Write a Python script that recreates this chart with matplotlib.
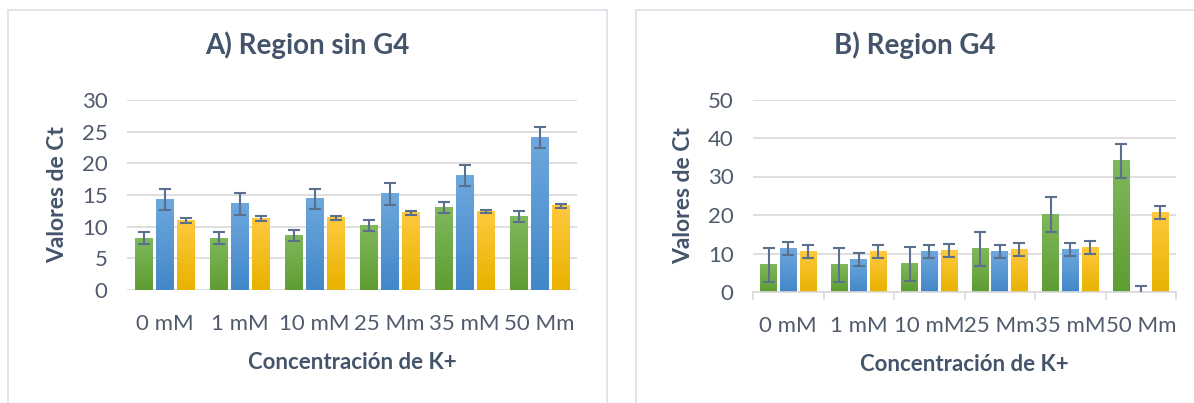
import matplotlib
matplotlib.use("Agg")
import matplotlib.pyplot as plt
import numpy as np
from matplotlib.colors import LinearSegmentedColormap
from matplotlib.patches import Rectangle

plt.rcParams['font.family'] = ['Lato', 'DejaVu Sans']

categories = ["0 mM", "1 mM", "10 mM", "25 Mm", "35 mM", "50 Mm"]

# A) Region sin G4
a_green = [8.2, 8.2, 8.6, 10.2, 13.0, 11.6]
a_green_err = [0.9, 0.9, 0.85, 0.85, 0.85, 0.85]
a_blue = [14.3, 13.6, 14.4, 15.2, 18.1, 24.1]
a_blue_err = [1.65, 1.7, 1.6, 1.7, 1.7, 1.7]
a_yellow = [10.95, 11.3, 11.4, 12.2, 12.4, 13.3]
a_yellow_err = [0.4, 0.35, 0.35, 0.35, 0.3, 0.3]

# B) Region G4
b_green = [7.1, 7.1, 7.35, 11.25, 20.1, 34.1]
b_green_err = [4.4, 4.4, 4.4, 4.4, 4.45, 4.45]
b_blue = [11.25, 8.4, 10.5, 10.5, 11.0, 0.0]
b_blue_err = [1.7, 1.65, 1.7, 1.7, 1.7, 1.65]
b_yellow = [10.5, 10.5, 10.7, 11.0, 11.5, 20.6]
b_yellow_err = [1.7, 1.7, 1.7, 1.7, 1.7, 1.7]

TEXT = '#44546A'
TICK = '#4F5B6C'
GRID = '#D9D9D9'
ERR = '#5B6F8E'
# (top, bottom) gradient colours
GREEN = ('#80B85C', '#5E9D32')
BLUE = ('#6EA8DE', '#4287C8')
YELLOW = ('#FFC93F', '#E8B200')


def gradient_bars(ax, bars, top, bottom):
    cmap = LinearSegmentedColormap.from_list('g', [bottom, top])
    grad = np.linspace(0, 1, 128).reshape(-1, 1)
    for b in bars:
        h = b.get_height()
        if h <= 0:
            continue
        x, y, w = b.get_x(), b.get_y(), b.get_width()
        ax.imshow(grad, extent=(x, x + w, y, y + h), origin='lower',
                  cmap=cmap, aspect='auto', zorder=2, interpolation='bilinear')


def draw(ax, title_x, title, series, ymax, ystep, ticks_below):
    x = np.arange(len(categories))
    w = 0.24
    step = 0.28
    for k, (vals, errs, cols) in enumerate(series):
        pos = x + (k - 1) * step
        bars = ax.bar(pos, vals, w, color='none', edgecolor='none', zorder=2)
        gradient_bars(ax, bars, *cols)
        ax.errorbar(pos, vals, yerr=errs, fmt='none', ecolor=ERR,
                    elinewidth=1.5, capsize=4.5, capthick=1.5, zorder=3)
    ax.set_xlim(-0.5, len(categories) - 0.5)
    ax.set_ylim(0, ymax)
    ax.set_yticks(np.arange(0, ymax + 1, ystep))
    ax.yaxis.grid(True, color=GRID, lw=1.2)
    ax.set_axisbelow(True)
    for s in ['top', 'right', 'left', 'bottom']:
        ax.spines[s].set_visible(False)
    ax.tick_params(axis='y', length=0, pad=14, labelsize=16, labelcolor=TICK)
    ax.set_xticks(x)
    ax.set_xticklabels(categories)
    ax.tick_params(axis='x', length=0, pad=17, labelsize=16, labelcolor=TICK)
    if ticks_below:
        ax.spines['bottom'].set_visible(True)
        ax.spines['bottom'].set_color(GRID)
        ax.spines['bottom'].set_linewidth(1.2)
        ax.set_xticks(np.arange(len(categories) + 1) - 0.5, minor=True)
        ax.tick_params(axis='x', which='minor', length=6, width=1.2, color=GRID)
    ax.set_xlabel('Concentración de K+', fontsize=16, fontweight='bold',
                  color=TEXT, labelpad=13)
    ax.set_ylabel('Valores de Ct', fontsize=16.5, fontweight='bold',
                  color=TEXT, labelpad=10)
    fig.text(title_x, 0.888, title, fontsize=20, fontweight='bold',
             color=TEXT, ha='center', va='center')


fig = plt.figure(figsize=(11.94, 4.03), dpi=100)

# panel frames
fig.patches.append(Rectangle((8 / 1194, -0.1), 599 / 1194, 1 - 10 / 403 + 0.1,
                             transform=fig.transFigure, fill=False,
                             edgecolor='#DADFE8', lw=1.2))
fig.patches.append(Rectangle((636 / 1194, -0.1), 0.6, 1 - 10 / 403 + 0.1,
                             transform=fig.transFigure, fill=False,
                             edgecolor='#DADFE8', lw=1.2))

ax1 = fig.add_axes([127 / 1194, 1 - 290 / 403, 450 / 1194, 190 / 403])
ax2 = fig.add_axes([753 / 1194, 1 - 292 / 403, 423 / 1194, 192.5 / 403])

draw(ax1, 307 / 1194, 'A) Region sin G4',
     [(a_green, a_green_err, GREEN), (a_blue, a_blue_err, BLUE),
      (a_yellow, a_yellow_err, YELLOW)], 30, 5, False)
draw(ax2, 915 / 1194, 'B) Region G4',
     [(b_green, b_green_err, GREEN), (b_blue, b_blue_err, BLUE),
      (b_yellow, b_yellow_err, YELLOW)], 50, 10, True)

fig.savefig('out.png', dpi=100)
